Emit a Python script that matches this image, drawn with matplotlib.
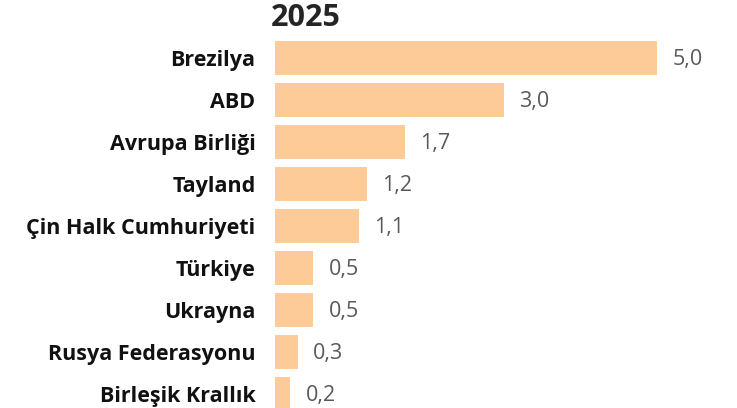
import matplotlib
matplotlib.use("Agg")
import matplotlib.pyplot as plt

# exporters, 2025
countries = [
    "Brezilya", "ABD", "Avrupa Birliği", "Tayland", "Çin Halk Cumhuriyeti",
    "Türkiye", "Ukrayna", "Rusya Federasyonu", "Birleşik Krallık",
]
values = [5.0, 3.0, 1.7, 1.2, 1.1, 0.5, 0.5, 0.3, 0.2]
title = "2025"

plt.rcParams["font.family"] = ["Open Sans", "DejaVu Sans"]

W, H = 737, 408
fig = plt.figure(figsize=(W / 100, H / 100), dpi=100)
ax = fig.add_axes([275 / W, -7 / H, (W - 275) / W, 378 / H])

y = list(range(len(countries)))
ax.barh(y, values, height=0.79, color="#FDCB97")

ax.set_ylim(len(countries) - 0.5, -0.5)
ax.set_xlim(0, (W - 275) / 76.4)
ax.set_yticks(y)
ax.set_yticklabels(countries, fontsize=15.5, fontweight="bold", color="#111111")
ax.tick_params(axis="y", length=0, pad=14)
ax.set_xticks([])
for s in ax.spines.values():
    s.set_visible(False)

# value labels with comma decimal
for yi, v in zip(y, values):
    ax.annotate(f"{v:.1f}".replace(".", ","), (v, yi), xytext=(11, -1),
                textcoords="offset points", va="center", ha="left",
                fontsize=15.5, color="#595959")

fig.text(306 / W, 1 - 18 / H, title, ha="center", va="center",
         fontsize=22, fontweight="bold", color="#252525")

fig.savefig("out.png", dpi=100)
